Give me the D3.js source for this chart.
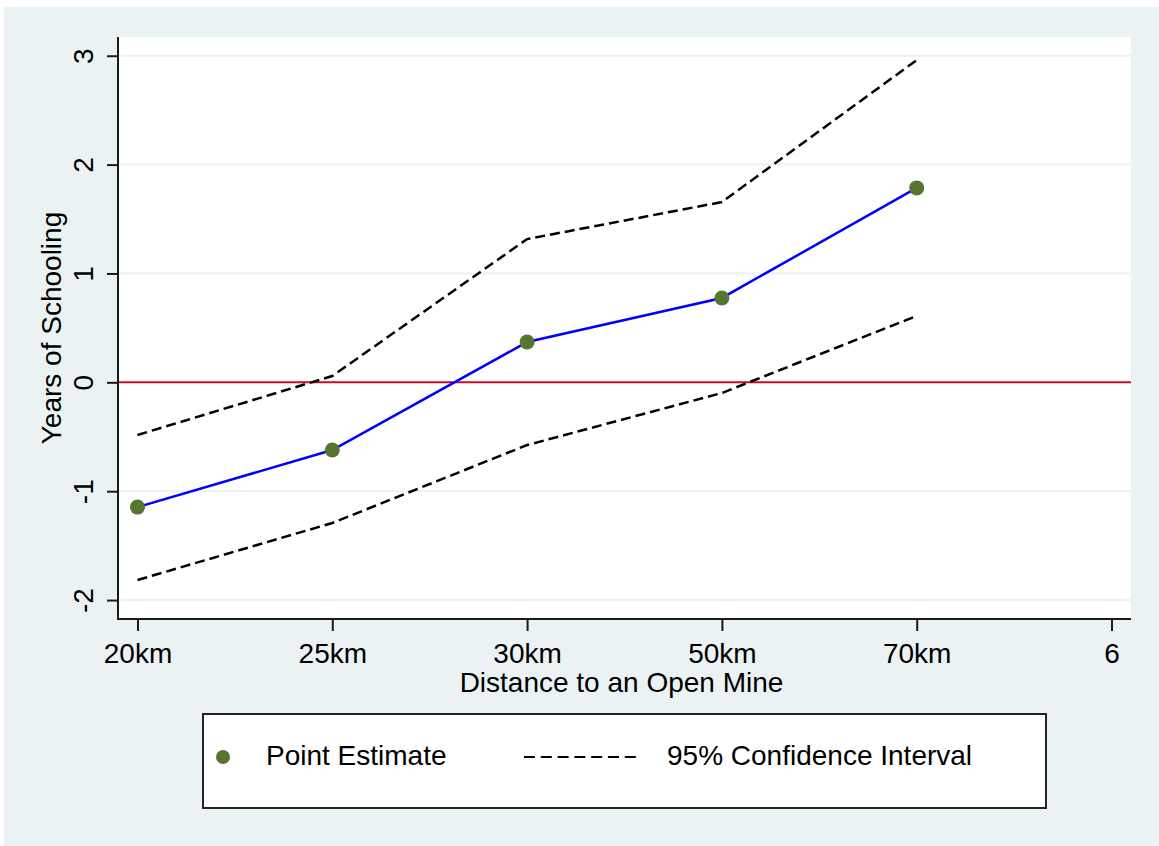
<!DOCTYPE html>
<html>
<head>
<meta charset="utf-8">
<script src="https://cdn.jsdelivr.net/npm/d3@7"></script>
<style>
  html, body { margin: 0; padding: 0; background: #ffffff; }
  svg { display: block; }
  text { font-family: "Liberation Sans", Arial, sans-serif; fill: #000; }
</style>
</head>
<body>
<svg id="chart" width="1159" height="846"></svg>
<script>
// ---- data ----
const xPositions = [1, 2, 3, 4, 5];
const xTickValues = [1, 2, 3, 4, 5, 6];
const xTickLabels = ["20km", "25km", "30km", "50km", "70km", "6"];
const yTickValues = [-2, -1, 0, 1, 2, 3];
const pointEstimate = [-1.146, -0.622, 0.370, 0.775, 1.786];
const ciUpper = [-0.484, 0.058, 1.316, 1.656, 2.960];
const ciLower = [-1.816, -1.292, -0.576, -0.098, 0.610];
const legendLabels = ["Point Estimate", "95% Confidence Interval"];
const xTitle = "Distance to an Open Mine";
const yTitle = "Years of Schooling";

// ---- layout ----
const W = 1159, H = 846;
const plot = { left: 118, right: 1131, top: 37, bottom: 619 };
const svg = d3.select("#chart");

// outer background
svg.append("rect").attr("x", 4).attr("y", 7).attr("width", W - 4).attr("height", H - 7)
  .attr("fill", "#eaf2f3");
// plot region
svg.append("rect").attr("x", plot.left).attr("y", plot.top)
  .attr("width", plot.right - plot.left).attr("height", plot.bottom - plot.top)
  .attr("fill", "#ffffff");

const x = d3.scaleLinear().domain([0.9, 6.1]).range([plot.left, plot.right]);
const y = d3.scaleLinear().domain([-2.174, 3.172]).range([plot.bottom, plot.top]);

// gridlines
svg.append("g").selectAll("line").data(yTickValues).join("line")
  .attr("x1", plot.left).attr("x2", plot.right)
  .attr("y1", d => y(d)).attr("y2", d => y(d))
  .attr("stroke", "#eaf2f3").attr("stroke-width", 2);

// zero reference line
svg.append("line")
  .attr("x1", plot.left).attr("x2", plot.right)
  .attr("y1", y(0)).attr("y2", y(0))
  .attr("stroke", "#c8102e").attr("stroke-width", 2);

// CI lines
const line = d3.line().x((d, i) => x(xPositions[i])).y(d => y(d));
[ciUpper, ciLower].forEach(series => {
  svg.append("path").datum(series).attr("d", line)
    .attr("fill", "none").attr("stroke", "#000").attr("stroke-width", 2.5)
    .attr("stroke-dasharray", "10,5");
});

// point estimate line
svg.append("path").datum(pointEstimate).attr("d", line)
  .attr("fill", "none").attr("stroke", "#0000ff").attr("stroke-width", 2.5);

// markers
svg.append("g").selectAll("circle").data(pointEstimate).join("circle")
  .attr("cx", (d, i) => x(xPositions[i])).attr("cy", d => y(d))
  .attr("r", 7.5).attr("fill", "#56762f");

// axes
const yAxis = d3.axisLeft(y).tickValues(yTickValues).tickSize(11).tickPadding(0)
  .tickFormat(d => String(d));
const gy = svg.append("g").attr("transform", `translate(${plot.left},0)`).call(yAxis);
gy.select(".domain").attr("stroke", "#1a1a1a").attr("stroke-width", 2)
  .attr("d", `M0,${plot.top}V${plot.bottom}`);
gy.selectAll(".tick line").attr("stroke", "#1a1a1a").attr("stroke-width", 2);
gy.selectAll(".tick text")
  .attr("font-size", 28).attr("font-family", "Liberation Sans, Arial, sans-serif")
  .attr("fill", "#000")
  .attr("text-anchor", "middle")
  .attr("x", 0).attr("dy", 0)
  .attr("transform", "translate(-25,0) rotate(-90)")
  .attr("y", 0);

const xAxis = d3.axisBottom(x).tickValues(xTickValues).tickSize(12).tickPadding(14)
  .tickFormat((d, i) => xTickLabels[i]);
const gx = svg.append("g").attr("transform", `translate(0,${plot.bottom})`).call(xAxis);
gx.select(".domain").attr("stroke", "#1a1a1a").attr("stroke-width", 2)
  .attr("d", `M${plot.left - 1},0H${plot.right}`);
gx.selectAll(".tick line").attr("stroke", "#1a1a1a").attr("stroke-width", 2);
gx.selectAll(".tick text")
  .attr("font-size", 28).attr("font-family", "Liberation Sans, Arial, sans-serif")
  .attr("fill", "#000").attr("dy", 0).attr("y", 44);

// axis titles
svg.append("text").attr("x", (plot.left + plot.right) / 2 - 3).attr("y", 692)
  .attr("text-anchor", "middle").attr("font-size", 28).text(xTitle);
svg.append("text")
  .attr("transform", `translate(61,${(plot.top + plot.bottom) / 2}) rotate(-90)`)
  .attr("text-anchor", "middle").attr("font-size", 28).text(yTitle);

// legend
const lg = svg.append("g");
lg.append("rect").attr("x", 203).attr("y", 714).attr("width", 843).attr("height", 94)
  .attr("fill", "#fff").attr("stroke", "#222").attr("stroke-width", 2);
lg.append("circle").attr("cx", 223).attr("cy", 757).attr("r", 7).attr("fill", "#56762f");
lg.append("text").attr("x", 266).attr("y", 765).attr("font-size", 28).text(legendLabels[0]);
lg.append("line").attr("x1", 524).attr("x2", 636).attr("y1", 757).attr("y2", 757)
  .attr("stroke", "#000").attr("stroke-width", 2.2).attr("stroke-dasharray", "11,5.8");
lg.append("text").attr("x", 667).attr("y", 765).attr("font-size", 28).text(legendLabels[1]);
</script>
</body>
</html>
